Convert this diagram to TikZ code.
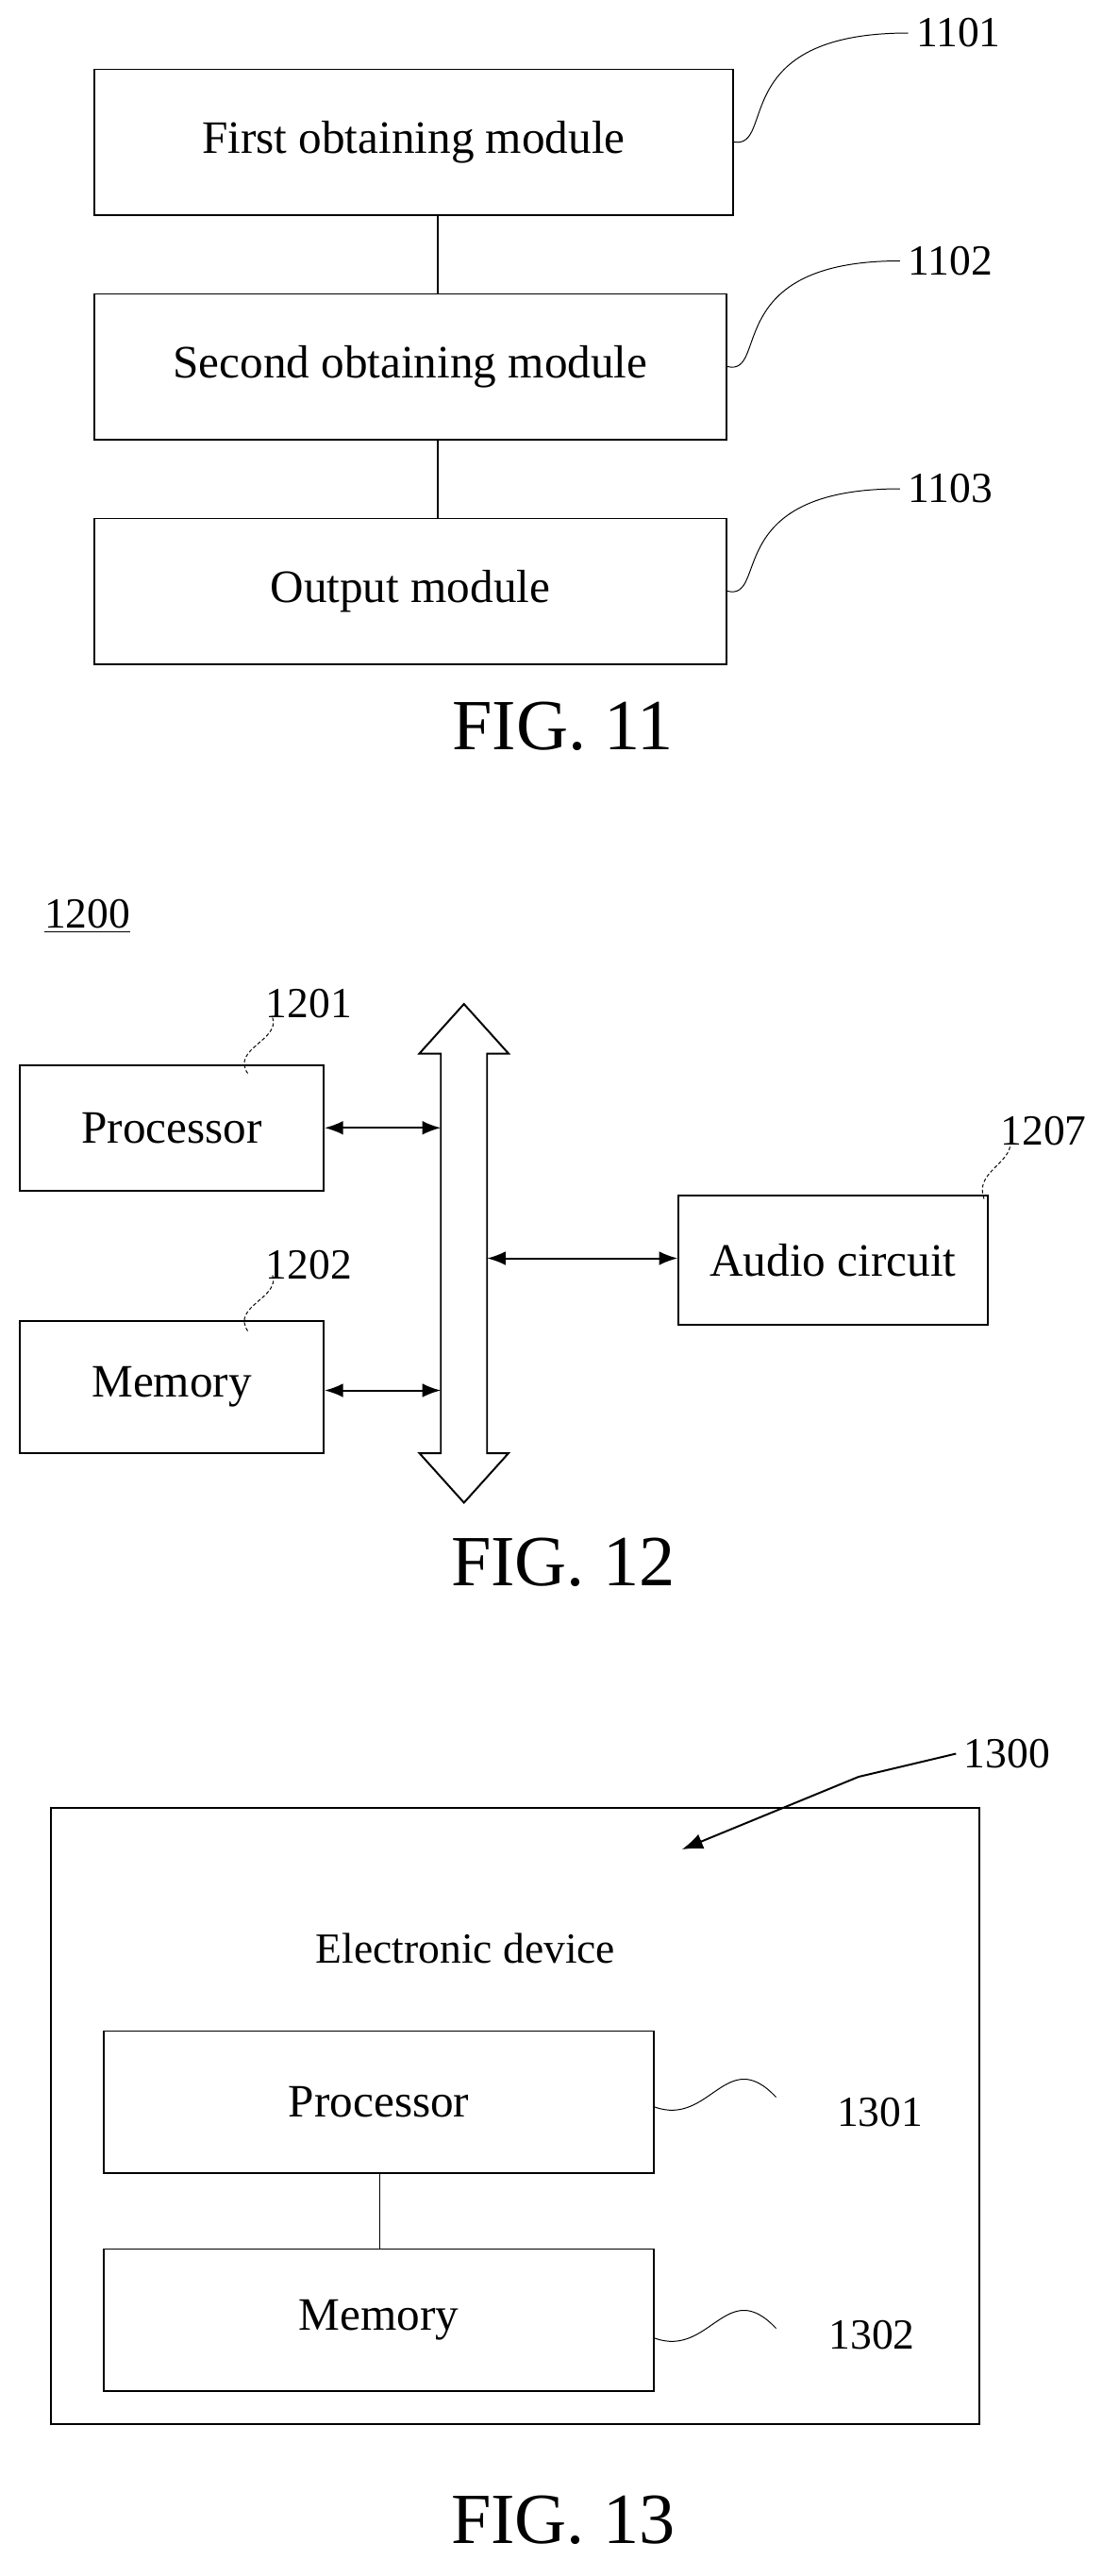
\documentclass[tikz,border=0pt]{standalone}
\usepackage{fontspec}
\setmainfont{Liberation Serif}
\usetikzlibrary{positioning,arrows.meta}
\tikzset{
  box/.style={draw,thick,minimum height=2.2cm,font=\fontsize{20}{24}\selectfont},
  num/.style={font=\fontsize{18.5}{22}\selectfont},
  fig/.style={font=\fontsize{31}{36}\selectfont},
  link/.style={thick},
  wig/.style={thin},
  dwig/.style={thin,dash pattern=on 1.5pt off 1pt},
  dbl/.style={thick,{Latex[length=8pt]}-{Latex[length=8pt]}}
}
\begin{document}
\begin{tikzpicture}[x=0.025cm,y=-0.025cm]
  \useasboundingbox (0,0) rectangle (667,1560);
  % FIG. 11
  \node[box,minimum width=9.675cm] (first) at (250.5,86) {First obtaining module};
  \node[box,minimum width=9.575cm] (second) at (248.5,222) {Second obtaining module};
  \node[box,minimum width=9.575cm] (output) at (248.5,358) {Output module};
  \draw[link] (first.south -| 265,0) -- (second.north -| 265,0);
  \draw[link] (second.south -| 265,0) -- (output.north -| 265,0);
  \node[num,anchor=west] (n1101) at (550,20) {1101};
  \node[num,anchor=west] (n1102) at (545,158) {1102};
  \node[num,anchor=west] (n1103) at (545,296) {1103};
  \draw[wig] (first.east) .. controls (470,90) and (440,20) .. (n1101.west);
  \draw[wig] (second.east) .. controls (466,228) and (436,158) .. (n1102.west);
  \draw[wig] (output.east) .. controls (466,364) and (436,296) .. (n1103.west);
  \node[fig] (fig11) at (341,440) {FIG. 11};
  % FIG. 12
  \node[num] (n1200) at (53,555) {\underline{1200}};
  \node[box,minimum width=4.6cm,minimum height=1.9cm] (proc) at (104,683) {Processor};
  \node[box,minimum width=4.6cm,minimum height=2cm] (mem) at (104,840) {Memory};
  \node[box,minimum width=4.675cm,minimum height=1.95cm] (audio) at (504.5,763) {Audio circuit};
  \draw[thick] (281,608) -- (308,638) -- (295,638) -- (295,880) -- (308,880)
    -- (281,910) -- (254,880) -- (267,880) -- (267,638) -- (254,638) -- cycle;
  \coordinate (busP) at (267,683);
  \coordinate (busM) at (267,842);
  \coordinate (busA) at (295,762);
  \draw[dbl] (proc.east |- busP) -- (busP);
  \draw[dbl] (mem.east |- busM) -- (busM);
  \draw[dbl] (busA) -- (audio.west |- busA);
  \node[num] (n1201) at (187,608) {1201};
  \node[num] (n1202) at (187,766) {1202};
  \node[num] (n1207) at (632,685) {1207};
  \draw[dwig] (150,650) .. controls (140,635) and (170,630) .. (165,616);
  \draw[dwig] (150,806) .. controls (140,791) and (170,786) .. (165,772);
  \draw[dwig] (596,726) .. controls (590,710) and (612,705) .. (612,692);
  \node[fig] (fig12) at (341,946) {FIG. 12};
  % FIG. 13
  \node[draw,thick,minimum width=14.05cm,minimum height=9.325cm] (dev) at (312,1281.5) {};
  \node[num] (devlbl) at (282,1180) {Electronic device};
  \node[box,minimum width=8.325cm,minimum height=2.15cm] (proc2) at (229.5,1273) {Processor};
  \node[box,minimum width=8.325cm,minimum height=2.15cm] (mem2) at (229.5,1405) {Memory};
  \draw[link] (proc2.south -| 230,0) -- (mem2.north -| 230,0);
  \node[num] (n1301) at (533,1279) {1301};
  \node[num] (n1302) at (528,1414) {1302};
  \node[num] (n1300) at (610,1062) {1300};
  \draw[wig] (proc2.east |- 0,1276) .. controls (430,1288) and (440,1238) .. (470,1270);
  \draw[wig] (mem2.east |- 0,1416) .. controls (430,1428) and (440,1378) .. (470,1410);
  \draw[thick,-{Latex[length=9pt]}] (n1300.west) -- (520,1076) -- (413,1120);
  \node[fig] (fig13) at (341,1526) {FIG. 13};
\end{tikzpicture}
\end{document}
